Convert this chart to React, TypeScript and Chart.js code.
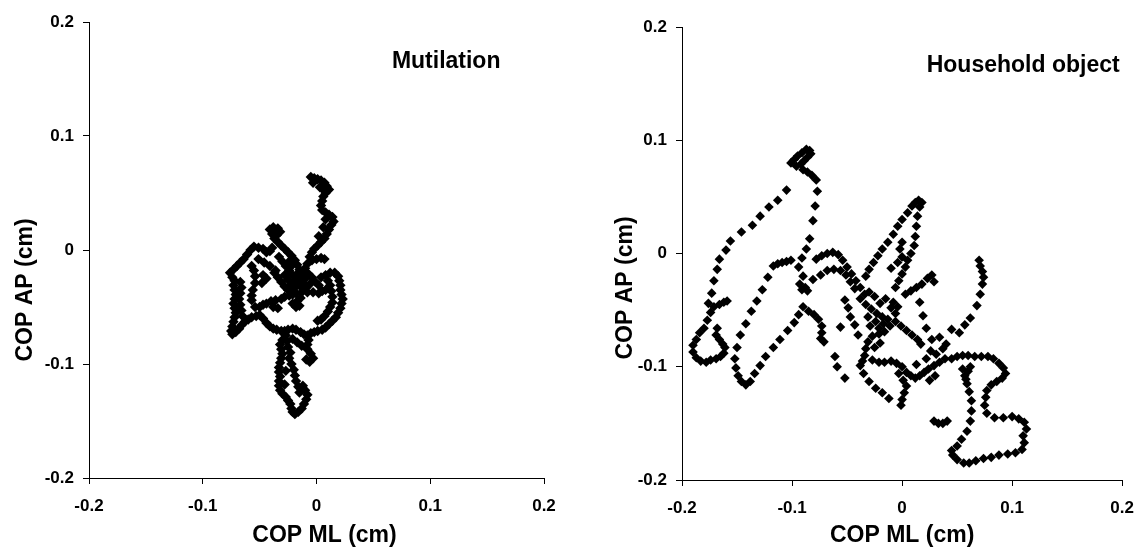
import { useEffect, useRef } from "react";
import { Chart, registerables } from "chart.js";

Chart.register(...registerables);

// tick values / labels shared by both panels
const tickValues = [-0.2, -0.1, 0, 0.1, 0.2];
const tickLabels = ["-0.2", "-0.1", "0", "0.1", "0.2"];

const xTitle = "COP ML (cm)";
const yTitle = "COP AP (cm)";

// COP trace, [ML, AP] in cm
const mutilationPoints: [number, number][] = [
  // upper stem
  [-0.005, 0.064], [-0.002, 0.063], [0.001, 0.062], [0.004, 0.061], [0.007, 0.059], [0.009, 0.056],
  [0.011, 0.053], [0.008, 0.05], [0.006, 0.047], [0.005, 0.043], [0.004, 0.039], [0.005, 0.035],
  [0.008, 0.033], [0.011, 0.031], [0.014, 0.029], [0.015, 0.025], [0.013, 0.022], [0.011, 0.018],
  [0.009, 0.014], [0.007, 0.01], [0.004, 0.007], [0.001, 0.004], [-0.002, 0.001], [-0.004, -0.002],
  [-0.006, -0.006], [-0.004, -0.009], [0.0, -0.008], [0.004, -0.007], [0.007, -0.008], [-0.008, -0.012],
  [-0.01, -0.016], [-0.012, -0.02], [-0.003, 0.059], [0.003, 0.055], [0.007, 0.052], [0.008, 0.027],
  [0.006, 0.02], [0.002, 0.012],
  // small blob upper left
  [-0.041, 0.018], [-0.038, 0.02], [-0.034, 0.019], [-0.032, 0.016], [-0.035, 0.013], [-0.039, 0.014],
  [-0.037, 0.01], [-0.034, 0.007], [-0.031, 0.004], [-0.028, 0.001], [-0.025, -0.002], [-0.022, -0.005],
  [-0.019, -0.009], [-0.017, -0.013], [-0.015, -0.017], [-0.036, 0.016],
  // left loop
  [-0.055, 0.003], [-0.051, 0.002], [-0.047, 0.001], [-0.044, -0.002], [-0.041, -0.001], [-0.039, 0.002],
  [-0.058, 0.0], [-0.061, -0.004], [-0.064, -0.008], [-0.067, -0.011], [-0.07, -0.014], [-0.073, -0.017],
  [-0.076, -0.02], [-0.074, -0.024], [-0.072, -0.027], [-0.073, -0.031], [-0.072, -0.035], [-0.071, -0.039],
  [-0.072, -0.043], [-0.073, -0.047], [-0.072, -0.051], [-0.071, -0.055], [-0.072, -0.059], [-0.073, -0.063],
  [-0.074, -0.067], [-0.075, -0.071], [-0.074, -0.074], [-0.071, -0.072], [-0.068, -0.069], [-0.066, -0.066],
  [-0.063, -0.063], [-0.06, -0.061], [-0.057, -0.059], [-0.053, -0.058], [-0.05, -0.057],
  [-0.067, -0.028], [-0.066, -0.033], [-0.067, -0.038], [-0.068, -0.043], [-0.067, -0.048], [-0.066, -0.053],
  [-0.065, -0.058],
  // inner strand
  [-0.057, -0.014], [-0.055, -0.018], [-0.054, -0.023], [-0.054, -0.029], [-0.056, -0.035], [-0.057, -0.04],
  [-0.057, -0.044], [-0.054, -0.05], [-0.051, -0.008], [-0.046, -0.011], [-0.041, -0.014], [-0.036, -0.018],
  [-0.047, -0.022], [-0.044, -0.025], [-0.048, -0.029],
  // middle band
  [-0.05, -0.05], [-0.047, -0.048], [-0.044, -0.047], [-0.04, -0.045], [-0.036, -0.044], [-0.031, -0.043],
  [-0.028, -0.041], [-0.024, -0.04], [-0.021, -0.039], [-0.018, -0.038], [-0.013, -0.037], [-0.008, -0.037],
  [-0.003, -0.037], [0.002, -0.038], [0.005, -0.036], [0.008, -0.035], [-0.038, -0.05], [-0.034, -0.051],
  // central knot
  [-0.033, -0.006], [-0.03, -0.01], [-0.027, -0.014], [-0.024, -0.018], [-0.021, -0.022], [-0.018, -0.026],
  [-0.015, -0.03], [-0.012, -0.034], [-0.028, -0.022], [-0.025, -0.026], [-0.022, -0.03], [-0.019, -0.033],
  [-0.031, -0.028], [-0.034, -0.024], [-0.037, -0.02], [-0.01, -0.025], [-0.007, -0.021], [-0.004, -0.024],
  [-0.001, -0.028], [0.002, -0.031], [-0.006, -0.03], [-0.009, -0.033], [-0.013, -0.024], [-0.016, -0.02],
  [-0.024, -0.01], [-0.021, -0.013], [-0.021, -0.047], [-0.018, -0.05], [-0.015, -0.049], [-0.017, -0.045],
  [-0.014, -0.042], [-0.028, -0.032], [-0.025, -0.035], [-0.016, -0.028], [-0.012, -0.029],
  // right loop
  [0.004, -0.024], [0.008, -0.022], [0.012, -0.02], [0.016, -0.02], [0.019, -0.023], [0.02, -0.027],
  [0.021, -0.031], [0.021, -0.035], [0.022, -0.039], [0.023, -0.043], [0.022, -0.047], [0.021, -0.051],
  [0.019, -0.055], [0.017, -0.059], [0.014, -0.062], [0.011, -0.065], [0.008, -0.068], [0.005, -0.07],
  [0.001, -0.071], [-0.002, -0.072], [-0.005, -0.073], [0.01, -0.027], [0.012, -0.031], [0.013, -0.036],
  [0.014, -0.041], [0.014, -0.046], [0.012, -0.05], [0.01, -0.054], [0.007, -0.058], [0.004, -0.061],
  [0.001, -0.062],
  // lower loop
  [-0.047, -0.06], [-0.044, -0.064], [-0.041, -0.067], [-0.038, -0.069], [-0.035, -0.07], [-0.031, -0.071],
  [-0.028, -0.071], [-0.025, -0.07], [-0.021, -0.069], [-0.018, -0.07], [-0.014, -0.072], [-0.011, -0.074],
  [-0.008, -0.075], [-0.007, -0.079], [-0.008, -0.083],
  // lower stem
  [-0.027, -0.075], [-0.03, -0.079], [-0.032, -0.083], [-0.031, -0.087], [-0.03, -0.091], [-0.031, -0.095],
  [-0.032, -0.099], [-0.033, -0.103], [-0.033, -0.107], [-0.032, -0.111], [-0.033, -0.115], [-0.033, -0.119],
  [-0.032, -0.123], [-0.03, -0.126], [-0.027, -0.129], [-0.025, -0.132], [-0.023, -0.135], [-0.022, -0.139],
  [-0.021, -0.142], [-0.019, -0.144], [-0.016, -0.142], [-0.013, -0.139], [-0.011, -0.135], [-0.009, -0.131],
  [-0.008, -0.127], [-0.01, -0.123], [-0.012, -0.119], [-0.015, -0.125], [-0.016, -0.12], [-0.018, -0.115],
  [-0.019, -0.11], [-0.02, -0.105], [-0.022, -0.1], [-0.024, -0.095], [-0.023, -0.09], [-0.025, -0.085],
  [-0.026, -0.08], [-0.021, -0.078], [-0.017, -0.081], [-0.013, -0.084], [-0.008, -0.087], [-0.005, -0.091],
  [-0.003, -0.095], [-0.006, -0.098], [-0.009, -0.096], [-0.028, -0.118], [-0.027, -0.106],
];

const householdPoints: [number, number][] = [
  // top loop
  [-0.101, 0.08], [-0.098, 0.083], [-0.095, 0.086], [-0.091, 0.089], [-0.087, 0.092], [-0.084, 0.091],
  [-0.083, 0.088], [-0.086, 0.085], [-0.089, 0.082], [-0.092, 0.079], [-0.096, 0.077], [-0.09, 0.074],
  [-0.086, 0.072], [-0.082, 0.069], [-0.078, 0.065],
  // right arm of top loop
  [-0.077, 0.055], [-0.079, 0.042], [-0.081, 0.029], [-0.084, 0.013], [-0.087, 0.004], [-0.091, -0.004],
  [-0.094, -0.012], [-0.09, -0.02], [-0.093, -0.027], [-0.091, -0.032], [-0.086, -0.033],
  // left arm
  [-0.105, 0.056], [-0.113, 0.047], [-0.121, 0.041], [-0.129, 0.033], [-0.136, 0.025], [-0.146, 0.019],
  [-0.156, 0.011], [-0.16, 0.003], [-0.166, -0.005], [-0.168, -0.014], [-0.171, -0.024], [-0.173, -0.035],
  // hook and curl
  [-0.176, -0.044], [-0.171, -0.047], [-0.166, -0.045], [-0.162, -0.043], [-0.159, -0.042],
  [-0.174, -0.052], [-0.177, -0.059], [-0.18, -0.066], [-0.184, -0.07], [-0.187, -0.076], [-0.19, -0.081],
  [-0.19, -0.087], [-0.187, -0.092], [-0.183, -0.095], [-0.178, -0.096], [-0.174, -0.094], [-0.169, -0.093],
  [-0.165, -0.091], [-0.162, -0.088], [-0.161, -0.083], [-0.163, -0.08], [-0.166, -0.076], [-0.169, -0.072],
  [-0.168, -0.066],
  // inner V
  [-0.117, -0.011], [-0.113, -0.009], [-0.109, -0.008], [-0.105, -0.007], [-0.101, -0.006],
  [-0.122, -0.021], [-0.127, -0.032], [-0.132, -0.042], [-0.137, -0.051], [-0.142, -0.062], [-0.147, -0.072],
  [-0.15, -0.083], [-0.152, -0.093], [-0.151, -0.101], [-0.149, -0.108], [-0.146, -0.113], [-0.142, -0.116],
  [-0.138, -0.113], [-0.134, -0.106], [-0.129, -0.099], [-0.124, -0.091], [-0.117, -0.083], [-0.111, -0.076],
  [-0.104, -0.068], [-0.098, -0.061], [-0.094, -0.054], [-0.09, -0.047],
  [-0.085, -0.051], [-0.08, -0.054], [-0.076, -0.058], [-0.073, -0.064], [-0.073, -0.07], [-0.074, -0.075],
  [-0.071, -0.078],
  // arches
  [-0.088, -0.03], [-0.081, -0.023], [-0.074, -0.019], [-0.068, -0.015], [-0.062, -0.014], [-0.056, -0.015],
  [-0.051, -0.019], [-0.047, -0.025], [-0.043, -0.031],
  [-0.078, -0.005], [-0.073, -0.002], [-0.068, 0.0], [-0.063, 0.001], [-0.058, -0.001], [-0.054, -0.006],
  [-0.05, -0.012], [-0.046, -0.018], [-0.042, -0.024], [-0.038, -0.03], [-0.034, -0.036],
  [-0.056, -0.065], [-0.061, -0.091], [-0.059, -0.1], [-0.052, -0.11], [-0.043, -0.063], [-0.04, -0.072],
  [-0.052, -0.041], [-0.049, -0.048], [-0.047, -0.056],
  // central cluster
  [-0.038, -0.04], [-0.033, -0.045], [-0.028, -0.049], [-0.023, -0.053], [-0.018, -0.056], [-0.013, -0.058],
  [-0.011, -0.064], [-0.016, -0.069], [-0.021, -0.071], [-0.027, -0.073], [-0.031, -0.078], [-0.033, -0.084],
  [-0.034, -0.09], [-0.036, -0.095], [-0.038, -0.099], [-0.035, -0.106], [-0.03, -0.113], [-0.024, -0.119],
  [-0.018, -0.123], [-0.012, -0.128], [-0.027, -0.094], [-0.021, -0.096], [-0.016, -0.096], [-0.01, -0.095],
  [-0.005, -0.097], [-0.024, -0.06], [-0.029, -0.064], [-0.02, -0.044], [-0.015, -0.04], [-0.025, -0.038],
  [-0.03, -0.034], [-0.01, -0.048], [-0.006, -0.053], [-0.02, -0.079], [-0.025, -0.083],
  [-0.017, -0.062], [-0.021, -0.066], [-0.031, -0.056], [-0.008, -0.043], [-0.004, -0.047],
  // peak and its arms
  [0.009, 0.042], [0.005, 0.036], [0.0, 0.03], [-0.004, 0.024], [-0.008, 0.017], [-0.013, 0.01],
  [-0.018, 0.004], [-0.022, -0.002], [-0.026, -0.008], [-0.03, -0.014], [-0.033, -0.02],
  [0.012, 0.045], [0.015, 0.047], [0.018, 0.045], [0.016, 0.041],
  [0.014, 0.033], [0.013, 0.024], [0.012, 0.015], [0.011, 0.007], [0.008, 0.0], [0.005, -0.006],
  [0.003, -0.012], [0.0, -0.018], [-0.003, -0.024], [-0.006, -0.03],
  [0.0, 0.01], [-0.002, 0.004], [0.0, -0.003], [-0.004, -0.008], [-0.01, -0.013],
  [0.003, -0.036], [0.008, -0.033], [0.013, -0.03], [0.018, -0.027], [0.023, -0.022], [0.027, -0.019],
  [0.029, -0.025],
  [-0.006, -0.06], [-0.001, -0.064], [0.004, -0.068], [0.009, -0.072], [0.014, -0.076], [0.017, -0.08],
  [0.016, -0.043], [0.019, -0.055], [0.022, -0.066], [0.027, -0.076], [0.034, -0.074], [0.04, -0.08],
  [0.045, -0.067], [0.052, -0.07],
  // right strand
  [0.07, -0.006], [0.071, -0.011], [0.073, -0.016], [0.074, -0.021], [0.073, -0.027], [0.071, -0.036],
  [0.068, -0.046], [0.062, -0.057], [0.057, -0.063],
  // lower middle
  [0.0, -0.1], [0.004, -0.105], [0.008, -0.108], [0.012, -0.11], [0.016, -0.108], [0.02, -0.105],
  [0.024, -0.102], [0.029, -0.099], [0.034, -0.096], [0.039, -0.093], [-0.003, -0.106], [0.001, -0.112],
  [0.004, -0.117], [0.002, -0.123], [0.0, -0.129], [-0.001, -0.134], [0.013, -0.098], [0.022, -0.093],
  [0.026, -0.086], [0.031, -0.089], [0.037, -0.084], [0.025, -0.112], [0.03, -0.108],
  // lower right loop
  [0.045, -0.093], [0.05, -0.091], [0.055, -0.09], [0.06, -0.09], [0.066, -0.091], [0.072, -0.091],
  [0.078, -0.091], [0.083, -0.093], [0.088, -0.097], [0.092, -0.101], [0.094, -0.106], [0.091, -0.11],
  [0.086, -0.113], [0.081, -0.116], [0.077, -0.121], [0.076, -0.127], [0.075, -0.134], [0.077, -0.141],
  [0.084, -0.145], [0.092, -0.145], [0.1, -0.144], [0.106, -0.146], [0.111, -0.149], [0.113, -0.155],
  [0.11, -0.161], [0.111, -0.167], [0.109, -0.173], [0.103, -0.176], [0.096, -0.177], [0.088, -0.178],
  [0.081, -0.18], [0.074, -0.181], [0.067, -0.183], [0.061, -0.185], [0.056, -0.185], [0.05, -0.182],
  [0.046, -0.178], [0.045, -0.174],
  [0.05, -0.17], [0.054, -0.164], [0.059, -0.157], [0.062, -0.148], [0.063, -0.139], [0.063, -0.13],
  [0.061, -0.122], [0.059, -0.115], [0.057, -0.108], [0.055, -0.102], [0.06, -0.104], [0.058, -0.111],
  [0.062, -0.1],
  [0.029, -0.148], [0.033, -0.15], [0.037, -0.15], [0.041, -0.148],
];

const FONT = '"Liberation Sans", Arial, Helvetica, sans-serif';

type Geo = {
  left: number; // canvas left on page
  width: number;
  yAxisW: number;
  xAxisH: number;
  padTop: number;
  padRight: number;
  xTitleDx: number; // offset of x title from plot centre
  yTitleGap: number; // baseline of y title, left of axis
  yTitleY: number;
  radius: number;
};

// draws the panel label and the axis titles
const textPlugin = {
  id: "panelText",
  afterDraw(chart: any, _args: any, opts: any) {
    const { ctx, scales, chartArea } = chart;
    ctx.save();
    ctx.fillStyle = "#000";
    ctx.font = `bold 23px ${FONT}`;
    ctx.textAlign = "center";
    ctx.textBaseline = "alphabetic";
    ctx.fillText(opts.label, scales.x.getPixelForValue(opts.labelX), scales.y.getPixelForValue(opts.labelY));
    ctx.fillText(xTitle, (chartArea.left + chartArea.right) / 2 + opts.xTitleDx, 542);
    ctx.translate(chartArea.left - opts.yTitleGap, opts.yTitleY);
    ctx.rotate(-Math.PI / 2);
    ctx.fillText(yTitle, 0, 0);
    ctx.restore();
  },
};

function Panel(props: { points: [number, number][]; label: string; labelX: number; geo: Geo }) {
  const { points, label, labelX, geo } = props;
  const canvasRef = useRef<HTMLCanvasElement>(null);
  const chartRef = useRef<Chart | null>(null);

  useEffect(() => {
    if (!canvasRef.current) return;
    if (chartRef.current) chartRef.current.destroy();

    const tickFont = { family: FONT, size: 17, weight: "bold" as const };
    const axisBase = {
      type: "linear" as const,
      min: -0.2,
      max: 0.2,
      afterBuildTicks: (axis: any) => {
        axis.ticks = tickValues.map((v) => ({ value: v }));
      },
      grid: { drawOnChartArea: false, tickLength: 6, tickColor: "#000", tickWidth: 1 },
      border: { color: "#000", width: 1 },
    };

    chartRef.current = new Chart(canvasRef.current, {
      type: "scatter",
      data: {
        datasets: [
          {
            data: points.map(([x, y]) => ({ x, y })),
            pointStyle: "rectRot",
            pointRadius: geo.radius,
            pointBackgroundColor: "#000",
            pointBorderColor: "#000",
            pointBorderWidth: 0,
          },
        ],
      },
      options: {
        responsive: false,
        animation: false,
        layout: { padding: { top: geo.padTop, right: geo.padRight, left: 0, bottom: 0 } },
        plugins: {
          legend: { display: false },
          tooltip: { enabled: false },
          panelText: {
            label,
            labelX,
            labelY: 0.16,
            xTitleDx: geo.xTitleDx,
            yTitleGap: geo.yTitleGap,
            yTitleY: geo.yTitleY,
          },
        } as any,
        scales: {
          x: {
            ...axisBase,
            ticks: {
              font: tickFont,
              color: "#000",
              padding: 12,
              maxRotation: 0,
              callback: (_v: any, i: number) => tickLabels[i],
            },
            afterFit: (s: any) => {
              s.height = geo.xAxisH;
            },
          },
          y: {
            ...axisBase,
            ticks: {
              font: tickFont,
              color: "#000",
              padding: 9,
              callback: (_v: any, i: number) => tickLabels[i],
            },
            afterFit: (s: any) => {
              s.width = geo.yAxisW;
            },
          },
        },
      },
      plugins: [textPlugin],
    });

    return () => {
      if (chartRef.current) {
        chartRef.current.destroy();
        chartRef.current = null;
      }
    };
  }, [points, label, labelX, geo]);

  return (
    <div style={{ position: "absolute", left: geo.left, top: 0, width: geo.width, height: 548 }}>
      <canvas ref={canvasRef} width={geo.width} height={548} />
    </div>
  );
}

const leftGeo: Geo = {
  left: 0, width: 573, yAxisW: 89, xAxisH: 70, padTop: 22, padRight: 29,
  xTitleDx: 8, yTitleGap: 57, yTitleY: 290, radius: 5.2,
};
const rightGeo: Geo = {
  left: 573, width: 573, yAxisW: 109, xAxisH: 68, padTop: 27, padRight: 15,
  xTitleDx: 0, yTitleGap: 50, yTitleY: 288, radius: 4.8,
};

export default function App() {
  return (
    <div style={{ position: "absolute", left: 0, top: 0, width: 1146, height: 548, background: "#fff" }}>
      <Panel points={mutilationPoints} label="Mutilation" labelX={0.114} geo={leftGeo} />
      <Panel points={householdPoints} label="Household object" labelX={0.11} geo={rightGeo} />
    </div>
  );
}
